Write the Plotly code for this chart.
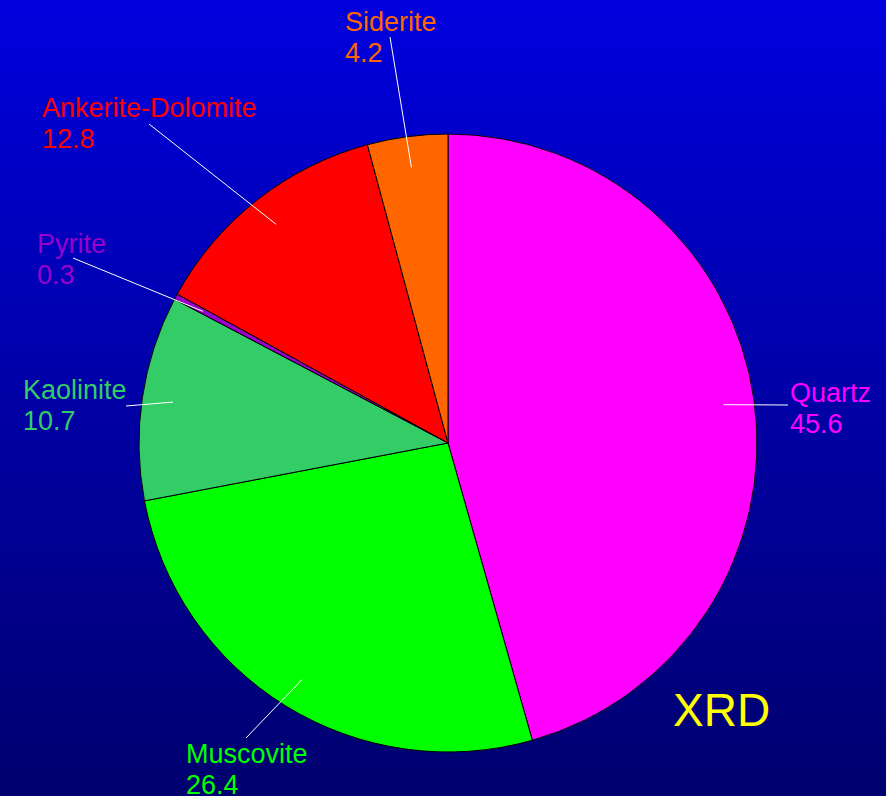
import numpy as np
import plotly.graph_objects as go

# XRD mineral composition (%)
minerals = ["Quartz", "Muscovite", "Kaolinite", "Pyrite", "Ankerite-Dolomite", "Siderite"]
percent = [45.6, 26.4, 10.7, 0.3, 12.8, 4.2]
colors = ["#ff00ff", "#00ff00", "#33cc66", "#9900cc", "#ff0000", "#ff6600"]

W, H = 886, 796
cx, cy, R = 448, 443, 309   # pie centre / radius in pixels

# label layout (pixels): text left x, name baseline y, leader line end x, y
label_text = {
    "Quartz": (788, 402, 788, 405),
    "Muscovite": (184, 763, 246, 738),
    "Kaolinite": (21, 399, 126, 406),
    "Pyrite": (35, 253, 73, 258),
    "Ankerite-Dolomite": (40, 117, 149, 124),
    "Siderite": (343, 31, 390, 37),
}

fig = go.Figure()

# gradient background on a hidden pixel axis
fig.add_trace(go.Scatter(
    x=[0, W, W, 0, 0], y=[0, 0, H, H, 0], mode="lines", line=dict(width=0),
    fill="toself", hoverinfo="skip", showlegend=False,
    fillgradient=dict(type="vertical", start=0, stop=H,
                      colorscale=[[0, "rgb(0,0,222)"], [1, "rgb(0,0,110)"]]),
))

fig.add_trace(go.Pie(
    labels=minerals, values=percent, sort=False, direction="clockwise", rotation=0,
    marker=dict(colors=colors, line=dict(color="black", width=1)),
    textinfo="none", hoverinfo="label+value", showlegend=False,
    domain=dict(x=[(cx - R) / W, (cx + R) / W], y=[1 - (cy + R) / H, 1 - (cy - R) / H]),
))

# leader lines from 0.9 R at each slice's mid angle
total = sum(percent)
cum = np.cumsum([0] + percent[:-1])
shapes = []
annotations = []
for name, v, c0, col in zip(minerals, percent, cum, colors):
    ang = np.deg2rad((c0 + v / 2) / total * 360)
    x0 = cx + 0.9 * R * np.sin(ang)
    y0 = cy - 0.9 * R * np.cos(ang)
    tx, ty, ex, ey = label_text[name]
    shapes.append(dict(type="line", xref="x", yref="y", x0=x0, y0=y0, x1=ex, y1=ey,
                       line=dict(color="white", width=1), layer="above"))
    for i, txt in enumerate([name, f"{v}"]):
        annotations.append(dict(
            x=tx, y=ty + 31 * i - 9.5, xref="x", yref="y", text=txt, showarrow=False,
            xanchor="left", yanchor="middle", font=dict(size=27, color=col),
        ))

annotations.append(dict(x=721, y=710, xref="x", yref="y", text="XRD", showarrow=False,
                        xanchor="center", yanchor="middle",
                        font=dict(size=46, color="#ffff00")))

fig.update_layout(
    width=W, height=H, margin=dict(l=0, r=0, t=0, b=0),
    paper_bgcolor="#00008c", plot_bgcolor="rgba(0,0,0,0)",
    font=dict(family="Liberation Sans, Arial, sans-serif"),
    xaxis=dict(range=[0, W], visible=False, fixedrange=True),
    yaxis=dict(range=[H, 0], visible=False, fixedrange=True),
    shapes=shapes, annotations=annotations,
)

# drop the page's default body margin so the chart fills the window
fig.write_html("out.html", config={"displayModeBar": False},
               post_script="document.body.style.margin='0';document.body.style.overflow='hidden';")
